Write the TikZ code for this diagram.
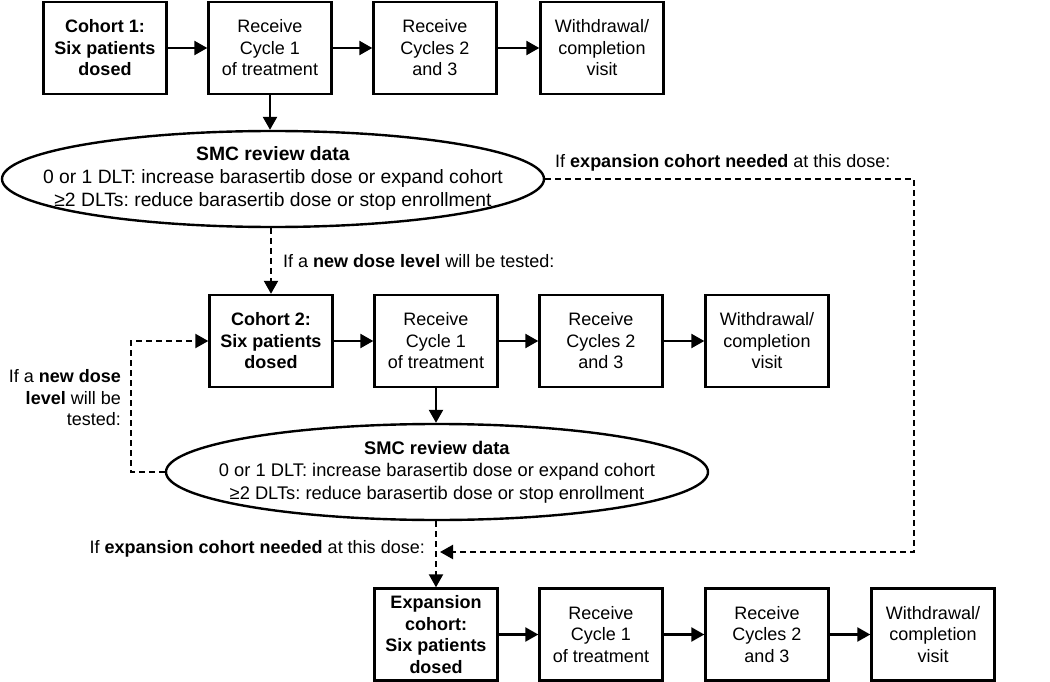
\documentclass[tikz,border=0pt]{standalone}
\usepackage{fontspec}
\setmainfont{Liberation Sans}
\usetikzlibrary{arrows.meta,shapes.geometric}
\newcommand{\txtfont}{\fontsize{18}{21.5}\selectfont}
\frenchspacing
\begin{document}
\frenchspacing
\begin{tikzpicture}[x=1pt,y=-1pt,
  box/.style={draw, line width=2.4pt, minimum width=123pt, minimum height=92pt, inner sep=0pt, align=center, font=\txtfont},
  boldbox/.style={box, font=\txtfont\bfseries},
  oval/.style={ellipse, draw, line width=2.4pt, minimum width=542pt, minimum height=96pt, inner sep=0pt},
  ovaltext/.style={inner sep=0pt, align=center},
  arr/.style={line width=2.4pt, -{Triangle[length=13pt,width=14pt]}},
  darr/.style={line width=2.2pt, dash pattern=on 6pt off 4pt, -{Triangle[length=13pt,width=14pt]}},
  lbl/.style={inner sep=0pt, font=\txtfont, align=right}
]
\useasboundingbox (0,0) rectangle (1050,682);

% Row 1
\node[boldbox] (a1) at (105,48) {Cohort 1:\\Six patients\\dosed};
\node[box] (a2) at (270,48) {Receive\\Cycle 1\\of treatment};
\node[box] (a3) at (435,48) {Receive\\Cycles 2\\and 3};
\node[box] (a4) at (602,48) {Withdrawal/\\completion\\visit};

% Ellipse 1
\node[oval] (e1) at (273,179) {};
\node[ovaltext, font=\fontsize{19.3}{23}\selectfont] (t1) at (e1.center) {\textbf{SMC review data}\\0 or 1 DLT: increase barasertib dose or expand cohort\\≥2 DLTs: reduce barasertib dose or stop enrollment};

% Row 2
\node[boldbox] (b1) at (271,341) {Cohort 2:\\Six patients\\dosed};
\node[box] (b2) at (436,341) {Receive\\Cycle 1\\of treatment};
\node[box] (b3) at (601,341) {Receive\\Cycles 2\\and 3};
\node[box] (b4) at (767,341) {Withdrawal/\\completion\\visit};

% Ellipse 2
\node[oval] (e2) at (437,472) {};
\node[ovaltext, font=\fontsize{18.3}{22.5}\selectfont] (t2) at (e2.center) {\textbf{SMC review data}\\0 or 1 DLT: increase barasertib dose or expand cohort\\≥2 DLTs: reduce barasertib dose or stop enrollment};

% Row 3
\node[boldbox] (c1) at (436,634.5) {Expansion\\cohort:\\Six patients\\dosed};
\node[box] (c2) at (601,634.5) {Receive\\Cycle 1\\of treatment};
\node[box] (c3) at (767,634.5) {Receive\\Cycles 2\\and 3};
\node[box] (c4) at (933,634.5) {Withdrawal/\\completion\\visit};

% Labels
\node[lbl, anchor=west] (l1) at (555,163) {If \textbf{expansion cohort needed} at this dose:};
\node[lbl, anchor=west] (l2) at (283,261) {If a \textbf{new dose level} will be tested:};
\node[lbl, anchor=east] (l3) at (121,398) {If a \textbf{new dose}\\\textbf{level} will be\\tested:};
\node[lbl, anchor=east] (l4) at (425,549) {If \textbf{expansion cohort needed} at this dose:};

% Coordinates
\coordinate (rt) at (914,179);
\coordinate (rb) at (914,552);
\coordinate (mj) at (438,552);
\coordinate (lt) at (131,341);
\coordinate (lb) at (131,472);

% Solid arrows
\draw[arr] (a1) -- (a2);
\draw[arr] (a2) -- (a3);
\draw[arr] (a3) -- (a4);
\draw[arr] (b1) -- (b2);
\draw[arr] (b2) -- (b3);
\draw[arr] (b3) -- (b4);
\draw[arr] (c1) -- (c2);
\draw[arr] (c2) -- (c3);
\draw[arr] (c3) -- (c4);
\draw[arr] (a2.south) -- (a2.south |- e1.north);
\draw[arr] (b2.south) -- (b2.south |- e2.north);

% Dashed arrows
\draw[darr] (b1.north |- e1.south) -- (b1.north);
\draw[darr] (e1.east) -- (e1.east -| rt) -- (rb) -- ([xshift=2pt]mj);
\draw[darr] (c1.north |- e2.south) -- (c1.north);
\draw[darr] (e2.west) -- (e2.west -| lb) -- (lt) -- (b1.west);
\end{tikzpicture}
\end{document}
